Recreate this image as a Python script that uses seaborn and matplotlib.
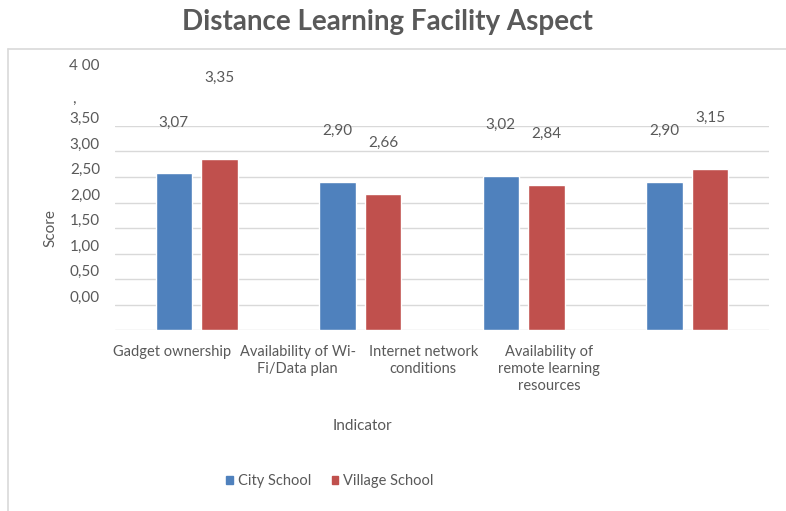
import pandas as pd
import numpy as np
import matplotlib
matplotlib.use("Agg")
import matplotlib.pyplot as plt
import seaborn as sns
from matplotlib.lines import Line2D

indicators = ["Gadget ownership", "Availability of Wi-\nFi/Data plan",
              "Internet network\nconditions",
              "Availability of\nremote learning\nresources"]
city = [3.07, 2.90, 3.02, 2.90]
village = [3.35, 2.66, 2.84, 3.15]
schools = ["City School", "Village School"]
ytick_vals = [0.0, 0.5, 1.0, 1.5, 2.0, 2.5, 3.0, 3.5]
ytick_text = ["0,00", "0,50", "1,00", "1,50", "2,00", "2,50", "3,00", "3,50"]

data = pd.DataFrame({
    "Indicator": indicators * 2,
    "Score": city + village,
    "School": [schools[0]] * 4 + [schools[1]] * 4,
})

sns.set_style("white")
plt.rcParams["font.family"] = ["Lato", "DejaVu Sans"]
grey = "#595959"
fs = 11

fig = plt.figure(figsize=(7.86, 5.11), dpi=100)
ax = fig.add_axes([115 / 786, 1 - 330 / 511, 654 / 786, 204 / 511])

sns.barplot(data=data, x="Indicator", y="Score", hue="School",
            palette=["#4F81BD", "#C0504D"], saturation=1, width=0.56,
            gap=0.2, ax=ax, legend=False)

ax.set_xlim(-0.5, 3.5)
ax.set_ylim(0, 4)
ax.set_yticks(np.arange(0, 4.01, 0.5))
ax.yaxis.grid(True, color="#D9D9D9", linewidth=1)
ax.set_axisbelow(True)
for s in ax.spines.values():
    s.set_visible(False)
ax.tick_params(left=False, bottom=False, labelleft=False, labelbottom=False)
ax.set_xlabel("")
ax.set_ylabel("")

# shifted y tick labels (as in the original export)
ytr = ax.get_yaxis_transform()
for v, t in zip(ytick_vals, ytick_text):
    ax.text(-0.023, v + 0.63, t, transform=ytr, ha="right", va="center",
            fontsize=fs, color=grey, clip_on=False)
ax.text(-0.023, 5.18, "4 00", transform=ytr, ha="right", va="center",
        fontsize=fs, color=grey, clip_on=False)
ax.text(-0.06, 4.53, ",", transform=ytr, ha="right", va="center",
        fontsize=fs, color=grey, clip_on=False)

# data labels
for bars in ax.containers:
    for rect in bars:
        h = rect.get_height()
        dy = 1.0 if h < 3.3 else 1.6
        ax.text(rect.get_x() + rect.get_width() / 2, h + dy,
                f"{h:.2f}".replace(".", ","), ha="center", va="center",
                fontsize=fs, color=grey, clip_on=False)

# category labels (spaced as in the original)
xtr = ax.get_xaxis_transform()
for i, lab in enumerate(indicators):
    ax.text(-0.15 + 0.768 * i, -0.075, lab, transform=xtr, ha="center",
            va="top", fontsize=10.5, color=grey, linespacing=1.25,
            clip_on=False)

fig.text(50 / 786, 1 - 228 / 511, "Score", rotation=90, ha="center",
         va="center", fontsize=fs, color=grey)
fig.text(362 / 786, 1 - 426 / 511, "Indicator", ha="center", va="center",
         fontsize=fs, color=grey)
fig.text(387 / 786, 1 - 22 / 511, "Distance Learning Facility Aspect",
         ha="center", va="center", fontsize=20, fontweight="bold",
         color=grey)

handles = [plt.Rectangle((0, 0), 1, 1, color=c) for c in ["#4F81BD", "#C0504D"]]
fig.legend(handles, schools, loc="center", ncol=2, frameon=False,
           bbox_to_anchor=(330 / 786, 1 - 481 / 511), handlelength=0.45,
           handleheight=0.45, handletextpad=0.35, columnspacing=1.4,
           prop={"size": 10.5}, labelcolor=grey)

# outer chart box
fig.add_artist(Line2D([8 / 786, 8 / 786], [0, 1 - 49 / 511],
                      transform=fig.transFigure, color="#D9D9D9", lw=1.2))
fig.add_artist(Line2D([8 / 786, 1], [1 - 49 / 511, 1 - 49 / 511],
                      transform=fig.transFigure, color="#D9D9D9", lw=1.2))

fig.savefig("out.png", dpi=100)
